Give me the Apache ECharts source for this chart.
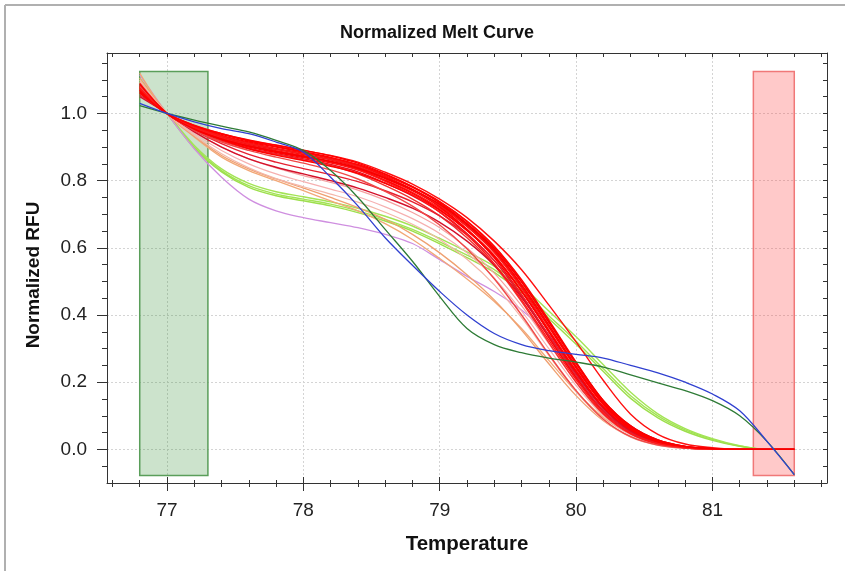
<!DOCTYPE html>
<html><head><meta charset="utf-8">
<script src="https://cdn.jsdelivr.net/npm/echarts@6/dist/echarts.min.js"></script>
<style>html,body{margin:0;padding:0;background:#fff}#c{width:845px;height:571px}</style>
</head><body><div id="c"></div>
<script>
// Temperatures at which the curves were read
const temps = [76.8,77.0,77.2,77.4,77.6,77.8,78.0,78.2,78.4,78.6,78.8,79.0,79.2,79.4,79.6,79.8,80.0,80.2,80.4,80.6,80.8,81.0,81.2,81.4,81.6];

// Tick positions / labels
const xMajorTicks = [77,78,79,80,81];
const xMinorTicks = [76.6,76.8,77.2,77.4,77.6,77.8,78.2,78.4,78.6,78.8,79.2,79.4,79.6,79.8,80.2,80.4,80.6,80.8,81.2,81.4,81.6,81.8];
const xAllTicks = [76.6,76.8,77,77.2,77.4,77.6,77.8,78,78.2,78.4,78.6,78.8,79,79.2,79.4,79.6,79.8,80,80.2,80.4,80.6,80.8,81,81.2,81.4,81.6,81.8];
const yMajorTicks = [0,0.2,0.4,0.6,0.8,1.0];
const yMinorTicks = [-0.05,0,0.05,0.1,0.15,0.2,0.25,0.3,0.35,0.4,0.45,0.5,0.55,0.6,0.65,0.7,0.75,0.8,0.85,0.9,0.95,1.0,1.05,1.1,1.15];

// Melt regions
const greenBand = [76.8, 77.3];
const redBand = [81.3, 81.6];
const bandY = [-0.078, 1.125];

// Red curves
const red1  = [1.06,1.0,0.965,0.94,0.92,0.905,0.89,0.875,0.855,0.825,0.79,0.745,0.69,0.62,0.535,0.43,0.32,0.205,0.105,0.045,0.016,0.005,0,0,0];
const red2  = [1.07,1.0,0.962,0.935,0.915,0.9,0.885,0.868,0.848,0.818,0.782,0.738,0.68,0.605,0.505,0.385,0.26,0.145,0.07,0.028,0.009,0.002,0,0,0];
const red3  = [1.08,1.0,0.958,0.93,0.908,0.893,0.878,0.862,0.84,0.808,0.772,0.728,0.668,0.592,0.49,0.37,0.245,0.135,0.062,0.024,0.008,0.002,0,0,0];
const red4  = [1.075,1.0,0.955,0.925,0.902,0.886,0.872,0.856,0.834,0.802,0.765,0.718,0.655,0.578,0.472,0.35,0.228,0.122,0.055,0.02,0.006,0.001,0,0,0];
const red5  = [1.085,1.0,0.952,0.92,0.897,0.88,0.865,0.848,0.826,0.793,0.755,0.707,0.643,0.562,0.455,0.333,0.213,0.112,0.05,0.018,0.005,0.001,0,0,0];
const red6  = [1.065,1.0,0.963,0.938,0.918,0.902,0.886,0.869,0.846,0.812,0.773,0.722,0.655,0.57,0.46,0.335,0.215,0.115,0.052,0.019,0.006,0.001,0,0,0];
const red7  = [1.09,1.0,0.95,0.918,0.895,0.878,0.862,0.845,0.82,0.785,0.745,0.695,0.63,0.548,0.44,0.318,0.2,0.105,0.046,0.016,0.005,0.001,0,0,0];
const red8  = [1.07,1.0,0.96,0.933,0.912,0.896,0.882,0.866,0.845,0.815,0.78,0.736,0.678,0.603,0.5,0.378,0.255,0.142,0.068,0.027,0.009,0.002,0,0,0];
const red9  = [1.078,1.0,0.957,0.928,0.905,0.889,0.874,0.858,0.837,0.806,0.77,0.724,0.664,0.588,0.484,0.364,0.242,0.133,0.061,0.023,0.007,0.002,0,0,0];
const red10 = [1.072,1.0,0.959,0.932,0.91,0.894,0.879,0.863,0.842,0.81,0.773,0.726,0.664,0.586,0.48,0.356,0.235,0.126,0.057,0.021,0.007,0.001,0,0,0];
const red11 = [1.082,1.0,0.954,0.923,0.9,0.884,0.869,0.853,0.832,0.8,0.762,0.714,0.652,0.574,0.47,0.35,0.23,0.125,0.057,0.021,0.007,0.001,0,0,0];
const red12 = [1.05,1.0,0.945,0.9,0.865,0.84,0.82,0.8,0.778,0.75,0.718,0.676,0.62,0.548,0.452,0.34,0.225,0.122,0.055,0.02,0.006,0.001,0,0,0];
const red13 = [1.055,1.0,0.95,0.91,0.878,0.855,0.836,0.818,0.797,0.77,0.737,0.695,0.638,0.562,0.46,0.34,0.22,0.115,0.05,0.018,0.005,0.001,0,0,0];
const red14 = [1.068,1.0,0.956,0.922,0.895,0.876,0.86,0.843,0.822,0.792,0.757,0.712,0.652,0.575,0.472,0.352,0.232,0.126,0.058,0.022,0.007,0.002,0,0,0];
const red15 = [1.08,1.0,0.95,0.915,0.89,0.87,0.852,0.832,0.805,0.768,0.724,0.668,0.597,0.508,0.4,0.283,0.175,0.09,0.038,0.013,0.004,0.001,0,0,0];
const red16 = [1.075,1.0,0.958,0.928,0.905,0.888,0.872,0.855,0.832,0.798,0.758,0.706,0.638,0.553,0.445,0.325,0.208,0.108,0.047,0.017,0.005,0.001,0,0,0];
const red17 = [1.062,1.0,0.964,0.94,0.921,0.906,0.891,0.874,0.852,0.82,0.782,0.734,0.672,0.594,0.49,0.37,0.248,0.138,0.065,0.025,0.008,0.002,0,0,0];
const red18 = [1.088,1.0,0.953,0.924,0.903,0.887,0.872,0.857,0.837,0.808,0.774,0.73,0.672,0.598,0.498,0.38,0.258,0.146,0.07,0.028,0.009,0.002,0,0,0];

// Pale red / pink curves
const pink1 = [1.09,1.0,0.945,0.9,0.865,0.838,0.815,0.795,0.772,0.742,0.705,0.66,0.6,0.525,0.428,0.315,0.2,0.105,0.045,0.016,0.005,0.001,0,0,0];
const pink2 = [1.095,1.0,0.94,0.89,0.85,0.82,0.797,0.775,0.752,0.722,0.687,0.643,0.585,0.51,0.412,0.3,0.19,0.1,0.043,0.015,0.004,0.001,0,0,0];
const pink3 = [1.1,1.0,0.935,0.88,0.838,0.806,0.782,0.76,0.736,0.706,0.67,0.625,0.566,0.49,0.392,0.28,0.172,0.088,0.036,0.012,0.003,0,0,0,0];

// Orange curves
const orange1 = [1.12,1.0,0.93,0.87,0.83,0.80,0.77,0.74,0.71,0.672,0.625,0.568,0.507,0.44,0.36,0.265,0.172,0.095,0.045,0.017,0.005,0.001,0,0,0];
const orange2 = [1.105,1.0,0.932,0.875,0.835,0.805,0.778,0.75,0.72,0.685,0.64,0.585,0.52,0.445,0.355,0.255,0.16,0.085,0.038,0.014,0.004,0.001,0,0,0];

// Light green curves
const lime1 = [1.10,1.0,0.9,0.83,0.785,0.76,0.745,0.73,0.71,0.685,0.655,0.618,0.578,0.535,0.475,0.398,0.322,0.24,0.16,0.1,0.058,0.03,0.01,0,0];
const lime2 = [1.095,1.0,0.905,0.835,0.792,0.767,0.752,0.737,0.718,0.694,0.665,0.628,0.588,0.545,0.487,0.412,0.335,0.252,0.17,0.106,0.062,0.032,0.011,0,0];
const lime3 = [1.105,1.0,0.897,0.826,0.78,0.755,0.74,0.725,0.705,0.68,0.65,0.612,0.571,0.527,0.467,0.39,0.313,0.232,0.152,0.094,0.054,0.027,0.009,0,0];

// Violet curve
const violet = [1.115,1.0,0.895,0.81,0.745,0.71,0.69,0.675,0.66,0.64,0.613,0.565,0.515,0.47,0.415,0.34,0.235,0.14,0.07,0.028,0.009,0.002,0,0,0];

// Blue and dark green curves
const blue = [1.03,1.0,0.975,0.955,0.94,0.915,0.885,0.81,0.725,0.63,0.548,0.47,0.40,0.345,0.312,0.294,0.283,0.272,0.25,0.228,0.2,0.165,0.115,0.024,-0.075];
const darkGreen = [1.023,1.0,0.98,0.962,0.945,0.92,0.89,0.83,0.75,0.655,0.56,0.455,0.36,0.312,0.288,0.272,0.26,0.245,0.222,0.198,0.175,0.145,0.1,0.024,-0.075];

const FONT = 'Liberation Sans, Arial, sans-serif';

function mk(name, vals, color, width) {
  return {
    type: 'line', name: name,
    data: temps.map((t, i) => [t, vals[i]]),
    smooth: 0.35, symbol: 'none', silent: true,
    lineStyle: { color: color, width: width },
    xAxisIndex: 0, yAxisIndex: 0
  };
}

const series = [];
const limeS = mk('lime1', lime1, '#a3e455', 1.4);
limeS.markArea = {
  silent: true,
  data: [
    [{ coord: [greenBand[0], bandY[1]], itemStyle: { color: 'rgba(40,140,40,0.24)', borderColor: '#5a9e5a', borderWidth: 1.5 } },
     { coord: [greenBand[1], bandY[0]] }],
    [{ coord: [redBand[0], bandY[1]], itemStyle: { color: 'rgba(255,60,60,0.28)', borderColor: '#f07878', borderWidth: 1.5 } },
     { coord: [redBand[1], bandY[0]] }]
  ]
};
series.push(limeS);
series.push(mk('lime2', lime2, '#a3e455', 1.4));
series.push(mk('lime3', lime3, '#9ddf4c', 1.4));
series.push(mk('violet', violet, '#cf8fe0', 1.3));
series.push(mk('orange1', orange1, '#f2a877', 1.3));
series.push(mk('orange2', orange2, '#efa070', 1.3));
series.push(mk('pink1', pink1, '#f5a0a0', 1.2));
series.push(mk('pink2', pink2, '#f6b0b0', 1.2));
series.push(mk('pink3', pink3, '#f4b6a8', 1.2));
const reds = [red1,red2,red3,red4,red5,red6,red7,red8,red9,red10,red11,red12,red13,red14,red15,red16,red17,red18];
const redColors = ['#ff1010','#ff0000','#f00000','#ff2020','#e81020','#ff0000','#f03030','#ff0808','#ff0000','#f81818','#ff0000','#d4102a','#e62030','#ff0000','#f04848','#ff1818','#ff0000','#f80000'];
reds.forEach((r, i) => series.push(mk('red' + (i + 1), r, redColors[i], 1.4)));
series.push(mk('darkGreen', darkGreen, '#2e7b36', 1.3));
series.push(mk('blue', blue, '#3040d0', 1.3));

const X_MIN = 76.56, X_MAX = 81.84, Y_MIN = -0.1, Y_MAX = 1.18;
const tickColor = '#333';

function xAx(extra) {
  const base = {
    type: 'value', min: X_MIN, max: X_MAX, position: 'bottom',
    axisLine: { show: false, onZero: false }, axisLabel: { show: false },
    splitLine: { show: false }, axisTick: { show: false }
  };
  const o = Object.assign(base, extra);
  o.axisLine = Object.assign({ onZero: false }, o.axisLine);
  return o;
}
function yAx(extra) {
  const base = {
    type: 'value', min: Y_MIN, max: Y_MAX, position: 'left',
    axisLine: { show: false, onZero: false }, axisLabel: { show: false },
    splitLine: { show: false }, axisTick: { show: false }
  };
  const o = Object.assign(base, extra);
  o.axisLine = Object.assign({ onZero: false }, o.axisLine);
  return o;
}

const option = {
  animation: false,
  backgroundColor: '#ffffff',
  title: {
    text: 'Normalized Melt Curve', left: 432, top: 19, textAlign: 'center',
    textStyle: { fontFamily: FONT, fontWeight: 'bold', fontSize: 18, color: '#111' }
  },
  graphic: [
    { type: 'line', shape: { x1: 5, y1: 5, x2: 845, y2: 5 }, style: { stroke: '#b0b0b0', lineWidth: 2 } },
    { type: 'line', shape: { x1: 5, y1: 5, x2: 5, y2: 571 }, style: { stroke: '#b0b0b0', lineWidth: 2 } }
  ],
  grid: { left: 107, right: 18, top: 53, bottom: 88, containLabel: false },
  xAxis: [
    xAx({
      name: 'Temperature', nameLocation: 'middle', nameGap: 51,
      nameTextStyle: { fontFamily: FONT, fontWeight: 'bold', fontSize: 20.5, color: '#111' },
      axisLine: { show: true, onZero: false, lineStyle: { color: tickColor, width: 1 } },
      axisTick: { show: true, inside: false, length: 8, customValues: xMajorTicks, lineStyle: { color: tickColor } },
      axisLabel: { show: true, customValues: xMajorTicks, margin: 18, fontFamily: FONT, fontSize: 19, color: '#222',
        formatter: v => String(Math.round(v)) },
      splitLine: { show: true, lineStyle: { color: '#d4d4d4', type: [2, 2], width: 1 } }
    }),
    xAx({ axisTick: { show: true, inside: true, length: 6, customValues: xMajorTicks, lineStyle: { color: tickColor } } }),
    xAx({ axisTick: { show: true, inside: false, length: 4, customValues: xMinorTicks, lineStyle: { color: tickColor } } }),
    xAx({ axisTick: { show: true, inside: true, length: 3, customValues: xMinorTicks, lineStyle: { color: tickColor } } }),
    xAx({ position: 'top',
      axisLine: { show: true, onZero: false, lineStyle: { color: tickColor, width: 1 } },
      axisTick: { show: true, inside: true, length: 4, customValues: xAllTicks, lineStyle: { color: tickColor } } })
  ],
  yAxis: [
    yAx({
      name: 'Normalized RFU', nameLocation: 'middle', nameGap: 64, nameRotate: 90,
      nameTextStyle: { fontFamily: FONT, fontWeight: 'bold', fontSize: 19, color: '#111', padding: [0, 14, 0, 0] },
      axisLine: { show: true, onZero: false, lineStyle: { color: tickColor, width: 1 } },
      axisTick: { show: true, inside: false, length: 10, customValues: yMajorTicks, lineStyle: { color: tickColor } },
      axisLabel: { show: true, customValues: yMajorTicks, margin: 20, fontFamily: FONT, fontSize: 19, color: '#222',
        formatter: v => v.toFixed(1) },
      splitLine: { show: true, lineStyle: { color: '#d4d4d4', type: [2, 2], width: 1 } }
    }),
    yAx({ axisTick: { show: true, inside: false, length: 5, customValues: yMinorTicks, lineStyle: { color: tickColor } } }),
    yAx({ position: 'right',
      axisLine: { show: true, onZero: false, lineStyle: { color: tickColor, width: 1 } },
      axisTick: { show: true, inside: true, length: 4, customValues: yMinorTicks, lineStyle: { color: tickColor } } })
  ],
  series: series
};

const chart = echarts.init(document.getElementById('c'), null, { renderer: 'canvas' });
chart.setOption(option);
</script>
</body></html>
